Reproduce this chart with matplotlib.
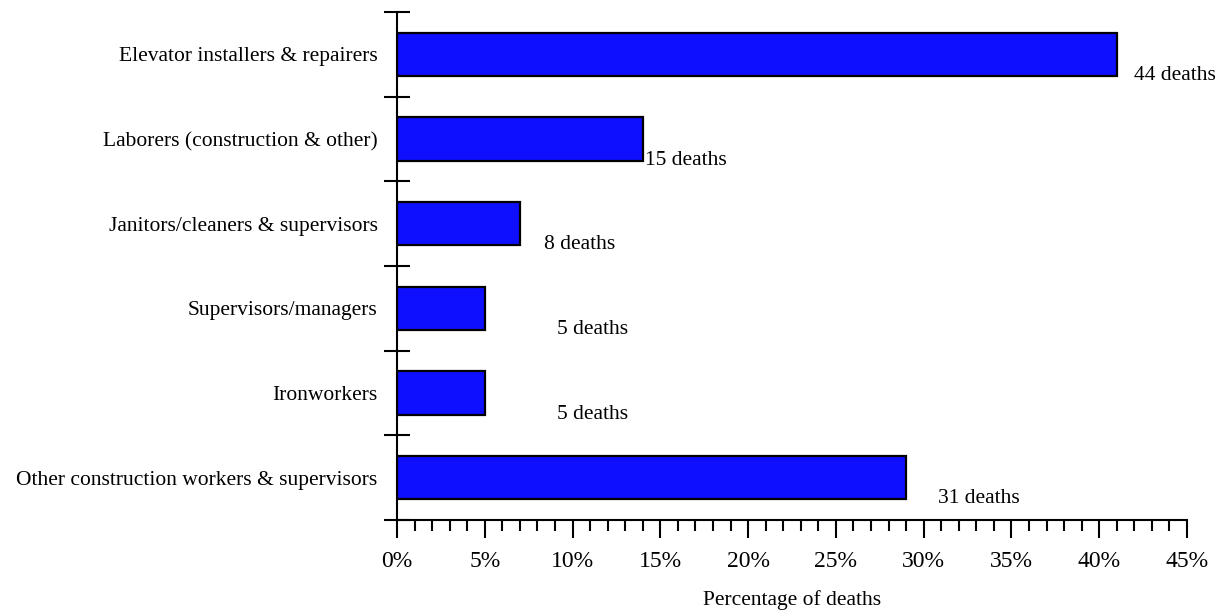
import matplotlib.pyplot as plt
from matplotlib.ticker import MultipleLocator, FixedLocator, PercentFormatter

occupations = [
    'Elevator installers & repairers',
    'Laborers (construction & other)',
    'Janitors/cleaners & supervisors',
    'Supervisors/managers',
    'Ironworkers',
    'Other construction workers & supervisors',
]
percent = [41, 14, 7, 5, 5, 29]
deaths = [44, 15, 8, 5, 5, 31]
# where each "n deaths" note sits along the x axis (percent units)
note_x = [42.0, 14.1, 8.4, 9.1, 9.1, 30.8]

plt.rcParams['font.family'] = ['Liberation Serif', 'DejaVu Serif']

fig = plt.figure(figsize=(12.21, 6.14), dpi=100)
ax = fig.add_axes([397 / 1221, 1 - 520 / 614, 790 / 1221, 508 / 614])

ypos = list(range(len(occupations)))
ax.barh(ypos, percent, height=0.51, color='#0F0FFF', edgecolor='black', linewidth=1.6)

for y, n, xn in zip(ypos, deaths, note_x):
    ax.text(xn, y + 0.25, f'{n} deaths', fontsize=15.5, va='center', ha='left')

ax.set_xlim(0, 45)
ax.set_ylim(len(occupations) - 0.5, -0.5)

ax.xaxis.set_major_locator(MultipleLocator(5))
ax.xaxis.set_minor_locator(MultipleLocator(1))
ax.xaxis.set_major_formatter(PercentFormatter(decimals=0))
ax.tick_params(axis='x', which='major', length=13, width=1.5, direction='out', labelsize=17, pad=9)
ax.tick_params(axis='x', which='minor', length=8, width=1.5, direction='out')

# category labels sit between the boundary ticks
ax.yaxis.set_major_locator(FixedLocator([i - 0.5 for i in range(len(occupations) + 1)]))
ax.yaxis.set_major_formatter(plt.NullFormatter())
ax.yaxis.set_minor_locator(FixedLocator(ypos))
ax.set_yticklabels(occupations, minor=True)
ax.tick_params(axis='y', which='major', length=19, width=1.5, direction='inout')
ax.tick_params(axis='y', which='minor', length=0, labelsize=15.5, pad=14)

for side in ('top', 'right'):
    ax.spines[side].set_visible(False)
for side in ('left', 'bottom'):
    ax.spines[side].set_linewidth(1.5)

ax.set_xlabel('Percentage of deaths', fontsize=15.5, labelpad=13)

fig.savefig('out.png', dpi=100)
